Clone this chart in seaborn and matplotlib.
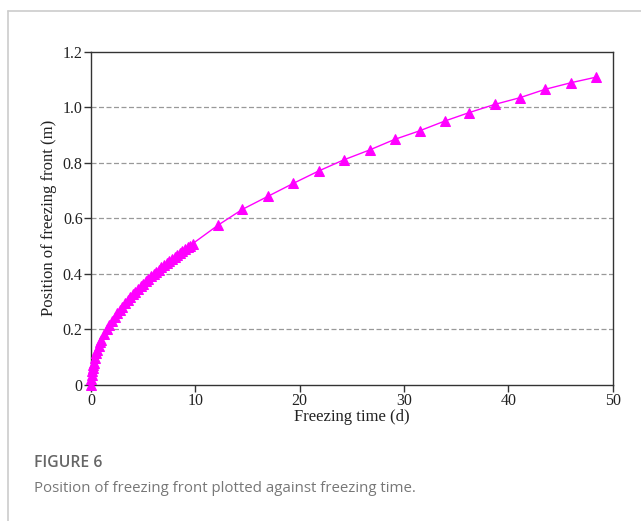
import numpy as np
import pandas as pd
import matplotlib
matplotlib.use("Agg")
import matplotlib.pyplot as plt
from matplotlib.lines import Line2D
import seaborn as sns

# freezing time (d) and position of freezing front (m)
time_d = [0.0, 0.02, 0.05, 0.1, 0.15, 0.2, 0.25, 0.35, 0.5, 0.6, 0.75, 0.9,
          1.0, 1.25, 1.5, 1.75, 2.0, 2.25,
          2.5, 2.75, 3.0, 3.25, 3.5, 3.75, 4.0, 4.25, 4.5, 4.75,
          5.0, 5.25, 5.5, 5.75, 6.0, 6.25, 6.5, 6.75, 7.0, 7.25,
          7.5, 7.75, 8.0, 8.25, 8.5, 8.75, 9.0, 9.25, 9.5, 9.75,
          12.2, 14.5, 17.0, 19.4, 21.8, 24.2, 26.7, 29.1, 31.5,
          33.9, 36.2, 38.7, 41.1, 43.5, 46.0, 48.4]
front_m = [0.0, 0.023, 0.036, 0.051, 0.063, 0.073, 0.08, 0.096, 0.115, 0.126, 0.14, 0.154,
           0.163, 0.182, 0.2, 0.216, 0.231, 0.245,
           0.258, 0.27, 0.282, 0.294, 0.305, 0.316, 0.326, 0.336, 0.346, 0.355,
           0.364, 0.373, 0.382, 0.391, 0.399, 0.407, 0.415, 0.423, 0.431, 0.439,
           0.446, 0.454, 0.461, 0.468, 0.475, 0.482, 0.489, 0.496, 0.502, 0.509,
           0.576, 0.632, 0.68, 0.726, 0.77, 0.81, 0.846, 0.884, 0.915,
           0.95, 0.98, 1.01, 1.034, 1.064, 1.088, 1.108]

x_ticks = [0, 10, 20, 30, 40, 50]
y_ticks = [0, 0.2, 0.4, 0.6, 0.8, 1.0, 1.2]
y_tick_labels = ["0", "0.2", "0.4", "0.6", "0.8", "1.0", "1.2"]

df = pd.DataFrame({"time": time_d, "front": front_m})

sns.set_style("ticks")
plt.rcParams['font.family'] = ['Liberation Serif', 'DejaVu Serif']

fig = plt.figure(figsize=(6.41, 5.21), dpi=100)
ax = fig.add_axes([0.142, 0.261, 0.814, 0.640])

sns.lineplot(data=df, x="time", y="front", ax=ax, color="#ff00ff",
             linewidth=1.0, marker="^", markersize=7.5,
             markeredgecolor="#ff00ff", markerfacecolor="#ff00ff",
             clip_on=False, zorder=3)

ax.set_xlim(0, 50)
ax.set_ylim(0, 1.2)
ax.set_xticks(x_ticks)
ax.set_yticks(y_ticks)
ax.set_yticklabels(y_tick_labels)
for v in y_ticks[1:-1]:
    ax.axhline(v, color="#999999", linestyle=(0, (4, 2)), linewidth=0.9, zorder=1)

for s in ax.spines.values():
    s.set_color("#333333")
    s.set_linewidth(1.0)
ax.tick_params(axis="both", direction="out", length=5, width=1.0,
               color="#333333", labelsize=11.5, labelcolor="#222222", pad=1)
ax.set_xlabel("Freezing time (d)", fontsize=12, color="#222222", labelpad=0)
ax.set_ylabel("Position of freezing front (m)", fontsize=12, color="#222222", labelpad=4)

# frame lines of the figure panel
fig.add_artist(Line2D([8 / 641, 1], [1 - 11 / 521, 1 - 11 / 521],
                      color="#cccccc", linewidth=1.2, transform=fig.transFigure))
fig.add_artist(Line2D([8 / 641, 8 / 641], [0, 1 - 11 / 521],
                      color="#cccccc", linewidth=1.2, transform=fig.transFigure))

fig.text(34 / 641, 1 - 463 / 521, "FIGURE 6", fontsize=11.3, color="#666666",
         family="Open Sans", fontweight="semibold", va="center", ha="left")
fig.text(34 / 641, 1 - 488 / 521,
         "Position of freezing front plotted against freezing time.",
         fontsize=10.8, color="#777777", family="Open Sans", va="center", ha="left")

fig.savefig("out.png", dpi=100)
